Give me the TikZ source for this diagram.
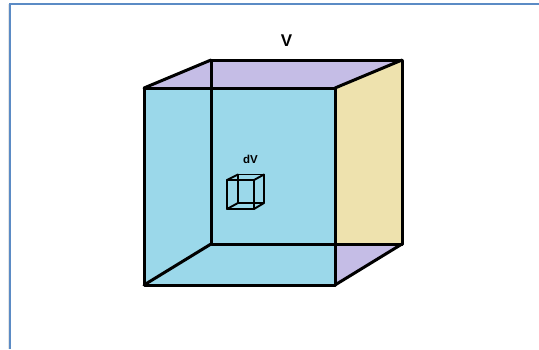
\documentclass[tikz,border=0pt]{standalone}
\usepackage{fontspec}
\setmainfont{Liberation Sans}
\definecolor{faceblue}{HTML}{9BD8EA}
\definecolor{facepurple}{HTML}{C5BDE6}
\definecolor{faceyellow}{HTML}{EEE2AE}
\definecolor{frameblue}{HTML}{5B8BC5}
\tikzset{edge/.style={draw=black,line width=3pt,line join=round,line cap=round},
 tinyedge/.style={draw=black,line width=1.9pt,line join=round,line cap=round},
 lab/.style={inner sep=0pt,font=\bfseries}}
\begin{document}
\begin{tikzpicture}[x=1pt,y=-1pt]
\useasboundingbox (0,0) rectangle (539,349);
\fill[white] (0,0) rectangle (539,349);
% frame
\draw[gray!20,line width=1pt] (8.3,4) -- (8.3,349);
\draw[frameblue,line width=2.2pt] (10.2,349) -- (10.2,4) -- (539,4);
% big cube corners
\coordinate (fa) at (144,88); \coordinate (fb) at (335,88);
\coordinate (fc) at (335,285); \coordinate (fd) at (144,285);
\coordinate (ba) at (211,60); \coordinate (bb) at (402,60);
\coordinate (bc) at (402,244); \coordinate (bd) at (211,244);
% faces
\fill[faceblue] (fa) -- (fb) -- (fc) -- (fd) -- cycle;
\fill[facepurple] (fa) -- (ba) -- (bb) -- (fb) -- cycle;
\fill[faceyellow] (fb) -- (bb) -- (bc) -- (335,244) -- cycle;
\fill[facepurple] (335,244) -- (bc) -- (fc) -- cycle;
% edges
\draw[edge] (ba) -- (bb) -- (bc) -- (bd) -- cycle;
\draw[edge] (fa) -- (fb) -- (fc) -- (fd) -- cycle;
\draw[edge] (fa) -- (ba) (fb) -- (bb) (fc) -- (bc) (fd) -- (bd);
% small cube corners
\coordinate (sa) at (227,180); \coordinate (sb) at (254,180);
\coordinate (sc) at (254,209); \coordinate (sd) at (227,209);
\coordinate (ta) at (238,174.5); \coordinate (tb) at (264,174.5);
\coordinate (tc) at (264,203); \coordinate (td) at (238,203);
\draw[tinyedge] (ta) -- (tb) -- (tc) -- (td) -- cycle;
\draw[tinyedge] (sa) -- (sb) -- (sc) -- (sd) -- cycle;
\draw[tinyedge] (sa) -- (ta) (sb) -- (tb) (sc) -- (tc) (sd) -- (td);
% labels
\node[lab,font=\bfseries\fontsize{17}{17}\selectfont] (bigV) at (286.5,40.5) {V};
\node[lab,font=\bfseries\fontsize{11.5}{12}\selectfont] (smallV) at (250.5,159.5) {dV};
\end{tikzpicture}
\end{document}
